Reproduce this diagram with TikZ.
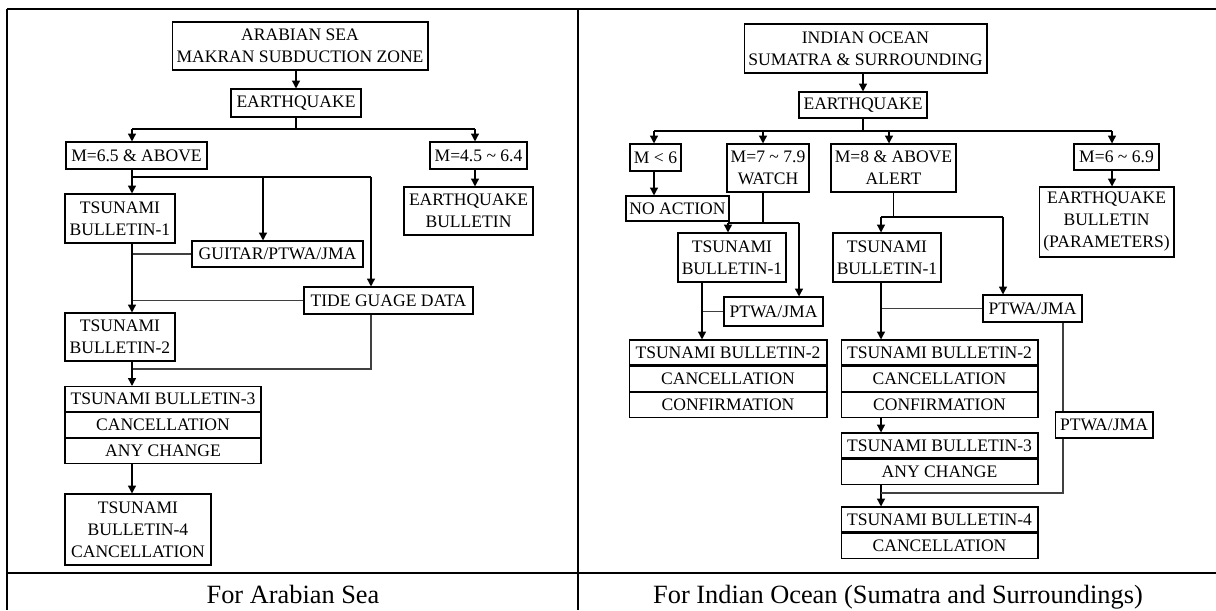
\documentclass[tikz,border=0pt]{standalone}
\usepackage{fontspec}
\setmainfont{Liberation Serif}
\usepackage{xcolor}
\usepackage{tikz}
\usetikzlibrary{arrows.meta,positioning}

\begin{document}
\begin{tikzpicture}[
  x=0.02cm, y=-0.02cm,
  box/.style={
    rectangle,
    draw=black,
    line width=0.6pt,
    inner sep=0pt,
    align=center,
    font=\fontsize{10}{12.5}\selectfont
  },
  row/.style={
    box,
    minimum height=0.5cm
  },
  caption/.style={
    anchor=base,
    font=\fontsize{15}{18}\selectfont
  },
  frame/.style={
    line width=1.5pt
  },
  line/.style={
    line width=0.8pt
  },
  link/.style={
    line width=0.6pt,
    draw=black!75
  },
  arrow/.style={
    ->,
    line width=0.8pt,
    >={Triangle[length=4.5pt,width=4.5pt]}
  }
]
  \useasboundingbox (0,0) rectangle (1216,610);

  % Table frame
  \draw[frame] (7,9) -- (1216,9);
  \draw[frame] (7,9) -- (7,610);
  \draw[frame] (578,9) -- (578,610);
  \draw[frame] (7,573) -- (1216,573);

  % Captions
  \node[caption] (capleft) at (293,603) {For Arabian Sea};
  \node[caption] (capright) at (898,603) {For Indian Ocean (Sumatra and Surroundings)};

  % ---------------- Arabian Sea ----------------
  \node[box, minimum width=5.12cm, minimum height=0.96cm] (src) at (300,46) {ARABIAN SEA\\MAKRAN SUBDUCTION ZONE};
  \node[box, minimum width=2.6cm, minimum height=0.56cm] (quake) at (296,103) {EARTHQUAKE};

  % Magnitude classes
  \node[box, minimum width=2.82cm, minimum height=0.54cm] (high) at (136.5,155.5) {M=6.5 \& ABOVE};
  \node[box, minimum width=1.94cm, minimum height=0.54cm] (mid) at (478.5,155.5) {M=4.5 \textasciitilde{} 6.4};
  \node[box, minimum width=2.58cm, minimum height=0.96cm] (quakebull) at (468.5,211) {EARTHQUAKE\\BULLETIN};

  % Bulletins
  \node[box, minimum width=2.2cm, minimum height=0.98cm] (bullone) at (120,218.5) {TSUNAMI\\BULLETIN-1};
  \node[box, minimum width=3.42cm, minimum height=0.52cm] (guitar) at (277.5,254) {GUITAR/PTWA/JMA};
  \node[box, minimum width=3.38cm, minimum height=0.54cm] (tide) at (388.5,300.5) {TIDE GUAGE DATA};
  \node[box, minimum width=2.2cm, minimum height=0.96cm] (bulltwo) at (120,337) {TSUNAMI\\BULLETIN-2};
  \node[row, minimum width=3.92cm] (bullthree) at (163,399) {TSUNAMI BULLETIN-3};
  \node[row, minimum width=3.92cm, below=0pt of bullthree] (bullthreeb) {CANCELLATION};
  \node[row, minimum width=3.92cm, below=0pt of bullthreeb] (bullthreec) {ANY CHANGE};
  \node[box, minimum width=2.92cm, minimum height=1.42cm] (bullfour) at (138,529.5) {TSUNAMI\\BULLETIN-4\\CANCELLATION};

  % Arrows - main flow
  \coordinate (brl) at (132,129);
  \coordinate (brr) at (475,129);
  \draw[arrow] (src.south -| quake.north) -- (quake.north);
  \draw[line] (quake.south) -- (quake.south |- brl);
  \draw[line] (brl) -- (brr);
  \draw[arrow] (brl) -- (brl |- high.north);
  \draw[arrow] (brr) -- (brr |- mid.north);
  \draw[arrow] (brr |- mid.south) -- (brr |- quakebull.north);

  % Branching below M=6.5
  \coordinate (spl) at (132,177);
  \coordinate (spm) at (263,177);
  \coordinate (spr) at (371,177);
  \draw[line] (brl |- high.south) -- (spl) -- (spr);
  \draw[arrow] (spl) -- (spl |- bullone.north);
  \draw[arrow] (spm) -- (spm |- guitar.north);
  \draw[arrow] (spr) -- (spr |- tide.north);
  \draw[link] (guitar.west) -- (guitar.west -| spl);
  \draw[link] (tide.west) -- (tide.west -| spl);
  \draw[arrow] (spl |- bullone.south) -- (spl |- bulltwo.north);
  \coordinate (tidej) at (371,369);
  \draw[link] (spr |- tide.south) -- (tidej) -- (tidej -| spl);
  \draw[arrow] (spl |- bulltwo.south) -- (spl |- bullthree.north);
  \draw[arrow] (spl |- bullthreec.south) -- (spl |- bullfour.north);

  % ---------------- Indian Ocean ----------------
  \node[box, minimum width=4.86cm, minimum height=0.98cm] (srctwo) at (865.5,48.5) {INDIAN OCEAN\\SUMATRA \& SURROUNDING};
  \node[box, minimum width=2.56cm, minimum height=0.52cm] (quaketwo) at (863,105) {EARTHQUAKE};

  % Magnitude classes
  \node[box, minimum width=1.02cm, minimum height=0.54cm] (low) at (655.5,157.5) {M < 6};
  \node[box, minimum width=1.64cm, minimum height=0.96cm] (watch) at (768,168) {M=7 \textasciitilde{} 7.9\\WATCH};
  \node[box, minimum width=2.5cm, minimum height=0.96cm] (alert) at (893.5,168) {M=8 \& ABOVE\\ALERT};
  \node[box, minimum width=1.7cm, minimum height=0.52cm] (moderate) at (1116.5,157) {M=6 \textasciitilde{} 6.9};
  \node[box, minimum width=2.7cm, minimum height=1.4cm] (quakebulltwo) at (1106.5,222) {EARTHQUAKE\\BULLETIN\\(PARAMETERS)};
  \node[box, minimum width=2.06cm, minimum height=0.5cm] (noaction) at (677.5,208.5) {NO ACTION};

  % Watch bulletins
  \node[box, minimum width=2.16cm, minimum height=0.98cm] (watchone) at (732,257.5) {TSUNAMI\\BULLETIN-1};
  \node[box, minimum width=1.98cm, minimum height=0.58cm] (ptwaone) at (773.5,311.5) {PTWA/JMA};
  \node[row, minimum width=3.96cm] (watchtwo) at (728,352.5) {TSUNAMI BULLETIN-2};
  \node[row, minimum width=3.96cm, below=0pt of watchtwo] (watchtwob) {CANCELLATION};
  \node[row, minimum width=3.96cm, below=0pt of watchtwob] (watchtwoc) {CONFIRMATION};

  % Alert bulletins
  \node[box, minimum width=2.16cm, minimum height=0.98cm] (alertone) at (887,257.5) {TSUNAMI\\BULLETIN-1};
  \node[box, minimum width=1.98cm, minimum height=0.54cm] (ptwatwo) at (1032.5,308.5) {PTWA/JMA};
  \node[row, minimum width=3.94cm] (alerttwo) at (939.5,352.5) {TSUNAMI BULLETIN-2};
  \node[row, minimum width=3.94cm, below=0pt of alerttwo] (alerttwob) {CANCELLATION};
  \node[row, minimum width=3.94cm, below=0pt of alerttwob] (alerttwoc) {CONFIRMATION};
  \node[row, minimum width=3.94cm] (alertthree) at (939.5,445.5) {TSUNAMI BULLETIN-3};
  \node[row, minimum width=3.94cm, below=0pt of alertthree] (alertthreeb) {ANY CHANGE};
  \node[row, minimum width=3.94cm] (alertfour) at (939.5,519.5) {TSUNAMI BULLETIN-4};
  \node[row, minimum width=3.94cm, below=0pt of alertfour] (alertfourb) {CANCELLATION};
  \node[box, minimum width=1.96cm, minimum height=0.52cm] (ptwathree) at (1104,425) {PTWA/JMA};

  % Arrows - main flow
  \coordinate (rba) at (654,131);
  \coordinate (rbb) at (763,131);
  \coordinate (rbc) at (889,131);
  \coordinate (rbd) at (1112,131);
  \draw[arrow] (srctwo.south -| quaketwo.north) -- (quaketwo.north);
  \draw[line] (quaketwo.south) -- (quaketwo.south |- rba);
  \draw[line] (rba) -- (rbd);
  \draw[arrow] (rba) -- (rba |- low.north);
  \draw[arrow] (rbb) -- (rbb |- watch.north);
  \draw[arrow] (rbc) -- (rbc |- alert.north);
  \draw[arrow] (rbd) -- (rbd |- moderate.north);
  \draw[arrow] (rba |- low.south) -- (rba |- noaction.north);
  \draw[arrow] (rbd |- moderate.south) -- (rbd |- quakebulltwo.north);

  % Watch branch
  \coordinate (wj) at (763,223);
  \coordinate (wl) at (728,223);
  \coordinate (wr) at (799,223);
  \coordinate (ws) at (702,223);
  \draw[line] (rbb |- watch.south) -- (wj);
  \draw[line] (wl) -- (wr);
  \draw[arrow] (wl) -- (wl |- watchone.north);
  \draw[arrow] (wr) -- (wr |- ptwaone.north);
  \draw[link] (ptwaone.west) -- (ptwaone.west -| ws);
  \draw[arrow] (ws |- watchone.south) -- (ws |- watchtwo.north);

  % Alert branch
  \coordinate (al) at (881,217);
  \coordinate (ar) at (1003,217);
  \coordinate (pj) at (1063,493);
  \draw[line] (alert.south) -- (alert.south |- al);
  \draw[line] (al) -- (ar);
  \draw[arrow] (al) -- (al |- alertone.north);
  \draw[arrow] (ar) -- (ar |- ptwatwo.north);
  \draw[link] (ptwatwo.west) -- (ptwatwo.west -| al);
  \draw[arrow] (al |- alertone.south) -- (al |- alerttwo.north);
  \draw[arrow] (al |- alerttwoc.south) -- (al |- alertthree.north);
  \draw[arrow] (al |- alertthreeb.south) -- (al |- alertfour.north);
  \draw[link] (pj |- ptwatwo.south) -- (pj |- ptwathree.north);
  \draw[link] (pj |- ptwathree.south) -- (pj) -- (pj -| al);

\end{tikzpicture}
\end{document}
